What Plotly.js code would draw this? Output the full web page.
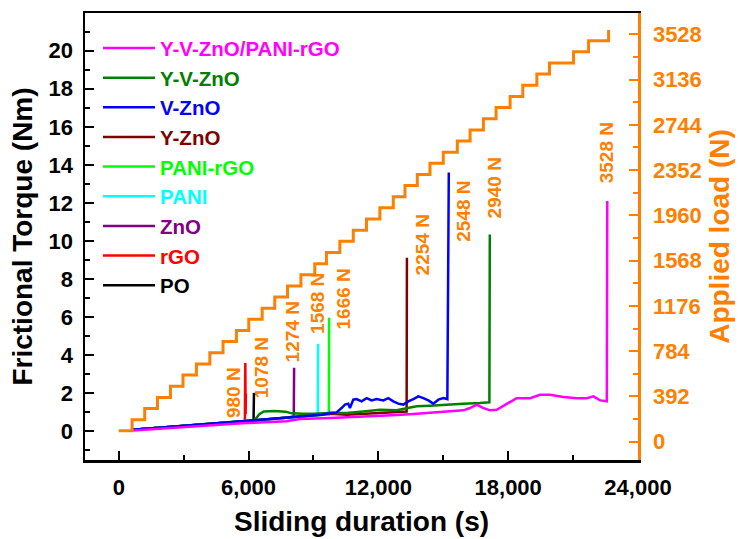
<!DOCTYPE html>
<html><head><meta charset="utf-8">
<script src="https://cdn.plot.ly/plotly-3.0.1.min.js"></script>
<style>html,body{margin:0;padding:0;background:#fff}#chart{width:744px;height:539px}</style>
</head><body><div id="chart"></div>
<script>
// ---------- DATA ----------
// Applied load staircase (right axis): time of each level start (s) and level (N)
const loadTime = [0, 616, 1200, 1790, 2390, 2970, 3590, 4210, 4820, 5440,
  6010, 6630, 7210, 7800, 8420, 9060, 9600, 10220, 10840, 11450,
  12070, 12690, 13230, 13800, 14385, 15000, 15650, 16240, 16855, 17440,
  18090, 18675, 19325, 19910, 21020, 21715, 22640];
const loadLevel = [95, 191, 288, 384, 481, 577, 674, 770, 867, 963,
  1060, 1156, 1253, 1349, 1446, 1542, 1639, 1735, 1832, 1928,
  2025, 2121, 2218, 2314, 2411, 2507, 2604, 2700, 2797, 2893,
  2990, 3086, 3183, 3279, 3376, 3472, 3565];

// Frictional torque (Nm) vs sliding duration (s)
const tPO   = [660, 1500, 2500, 3500, 4500, 5300, 5900, 6230, 6250, 6265, 6275];
const qPO   = [0.09, 0.16, 0.24, 0.32, 0.40, 0.46, 0.52, 0.58, 2.02, 1.0, 1.9];

const tRGO  = [660, 1500, 2500, 3500, 4500, 5300, 5830, 5850, 5865, 5875];
const qRGO  = [0.09, 0.16, 0.24, 0.32, 0.40, 0.47, 0.55, 3.6, 0.9, 2.0];

const tZnO  = [660, 2000, 3500, 5000, 6000, 7000, 7600, 8090, 8105];
const qZnO  = [0.09, 0.20, 0.32, 0.44, 0.55, 0.64, 0.70, 0.78, 3.34];

const tPANI = [660, 2000, 3500, 5000, 6000, 7000, 8000, 9000, 9200, 9215];
const qPANI = [0.09, 0.21, 0.33, 0.45, 0.55, 0.64, 0.74, 0.84, 0.86, 4.6];

const tPANIrGO = [660, 2000, 3500, 5000, 6000, 7000, 8000, 9000, 9710, 9725];
const qPANIrGO = [0.09, 0.20, 0.32, 0.44, 0.55, 0.65, 0.75, 0.85, 0.90, 5.97];

const tYZnO = [660, 2000, 3500, 5000, 6000, 7000, 8000, 9000, 9761, 10531, 11302, 12073, 12844, 13306, 13320];
const qYZnO = [0.09, 0.20, 0.32, 0.44, 0.55, 0.66, 0.76, 0.85, 0.93, 0.88, 0.93, 0.97, 1.00, 1.05, 9.12];

const tYVZnO = [660, 2000, 3500, 5000, 6000, 6300, 6500, 6700, 7200, 7700, 8000, 8500, 9000, 9761,
  10531, 11302, 12073, 12844, 13306, 13769, 14385, 15157, 15928, 16699, 17131, 17150];
const qYVZnO = [0.09, 0.20, 0.32, 0.44, 0.56, 0.62, 0.90, 1.05, 1.07, 1.04, 0.95, 0.93, 0.93, 0.97,
  0.97, 1.05, 1.14, 1.11, 1.23, 1.32, 1.35, 1.41, 1.46, 1.49, 1.53, 10.35];

const tVZnO = [660, 2000, 3500, 5000, 6000, 7000, 8000, 8800, 9400, 9761, 10069, 10300, 10454, 10608,
  10686, 10840, 10994, 11225, 11457, 11688, 11919, 12228, 12459, 12690, 12922, 13153, 13384, 13616,
  13847, 14078, 14310, 14541, 14772, 15003, 15188, 15255];
const qVZnO = [0.09, 0.20, 0.32, 0.44, 0.56, 0.66, 0.76, 0.82, 0.88, 0.97, 1.00, 1.23, 1.41, 1.46,
  1.23, 1.67, 1.70, 1.58, 1.75, 1.63, 1.70, 1.63, 1.75, 1.58, 1.46, 1.41, 1.58, 1.70,
  1.84, 1.75, 1.63, 1.46, 1.67, 1.75, 1.70, 13.6];

const tYVPR = [660, 2000, 3748, 5861, 7757, 8065, 8373, 9761, 10531, 11302, 12073, 12844, 13616, 14385,
  15157, 15928, 16237, 16545, 16853, 17162, 17470, 17778, 18087, 18395, 19012, 19475, 19937, 20554,
  21171, 21634, 21942, 22250, 22558, 22580];
const qYVPR = [0.05, 0.15, 0.26, 0.44, 0.53, 0.61, 0.65, 0.70, 0.74, 0.75, 0.82, 0.86, 0.91, 0.97,
  1.02, 1.11, 1.23, 1.41, 1.23, 1.11, 1.14, 1.35, 1.58, 1.75, 1.75, 1.93, 1.93, 1.81,
  1.74, 1.75, 1.84, 1.63, 1.58, 12.1];

// Legend names (top to bottom) and failure loads
const seriesNames = ['Y-V-ZnO/PANI-rGO', 'Y-V-ZnO', 'V-ZnO', 'Y-ZnO', 'PANI-rGO', 'PANI', 'ZnO', 'rGO', 'PO'];
const failLoad = [980, 1078, 1274, 1568, 1666, 2254, 2548, 2940, 3528];

// ---------- STYLE / POSITIONS ----------
const COLORS = {
  'Y-V-ZnO/PANI-rGO': '#ff00ff', 'Y-V-ZnO': '#008000', 'V-ZnO': '#0000ff', 'Y-ZnO': '#800000',
  'PANI-rGO': '#00ff00', 'PANI': '#00ffff', 'ZnO': '#800080', 'rGO': '#ff0000', 'PO': '#000000'
};
const ORANGE = '#ff8000';
const FONT = 'Liberation Sans, Arial, sans-serif';
// label anchor positions (x in s, y in Nm) for the rotated failure-load labels
const labelX = [5274, 6601, 8049, 9183, 10408, 14040, 15960, 17347, 22528];
const labelY = [2.06, 3.35, 5.25, 6.72, 6.98, 9.80, 11.54, 12.77, 14.62];

const seriesData = {
  'PO': [tPO, qPO], 'rGO': [tRGO, qRGO], 'ZnO': [tZnO, qZnO], 'PANI': [tPANI, qPANI],
  'PANI-rGO': [tPANIrGO, qPANIrGO], 'Y-ZnO': [tYZnO, qYZnO], 'Y-V-ZnO': [tYVZnO, qYVZnO],
  'V-ZnO': [tVZnO, qVZnO], 'Y-V-ZnO/PANI-rGO': [tYVPR, qYVPR]
};
const drawOrder = ['PO', 'rGO', 'ZnO', 'PANI', 'PANI-rGO', 'Y-ZnO', 'Y-V-ZnO', 'V-ZnO', 'Y-V-ZnO/PANI-rGO'];

const traces = [{
  x: loadTime, y: loadLevel, yaxis: 'y2', type: 'scatter', mode: 'lines',
  line: {color: ORANGE, width: 3, shape: 'hv'}, showlegend: false, hoverinfo: 'skip'
}];
drawOrder.forEach(name => {
  const d = seriesData[name];
  traces.push({
    x: d[0], y: d[1], type: 'scatter', mode: 'lines',
    name: '<span style="color:' + COLORS[name] + '">' + name + '</span>',
    legendrank: seriesNames.indexOf(name) + 1,
    line: {color: COLORS[name], width: 2.5}
  });
});

const bold = (size, color) => ({family: FONT, size: size, weight: 'bold', color: color || '#000'});

const annotations = failLoad.map((v, i) => ({
  x: labelX[i], y: labelY[i], xref: 'x', yref: 'y', text: v + ' N', showarrow: false,
  textangle: -90, xanchor: 'center', yanchor: 'middle', font: bold(19, ORANGE)
}));

const layout = {
  width: 744, height: 539,
  margin: {l: 85, r: 106, t: 13, b: 79},
  paper_bgcolor: '#fff', plot_bgcolor: '#fff',
  showlegend: true,
  legend: {x: 0.0235, y: 0.966, xanchor: 'left', yanchor: 'top', bgcolor: 'rgba(0,0,0,0)',
    borderwidth: 0, itemwidth: 52, font: bold(20.5), traceorder: 'normal'},
  xaxis: {
    range: [-1560, 24000], tick0: 0, dtick: 6000, tickformat: ',d',
    ticks: 'inside', ticklen: 9, tickwidth: 2, tickcolor: '#000',
    minor: {dtick: 3000, ticks: 'inside', ticklen: 5, tickwidth: 2, tickcolor: '#000'},
    showline: true, linewidth: 2.5, linecolor: '#000', mirror: true,
    showgrid: false, zeroline: false, tickfont: bold(22), ticklabelstandoff: 6,
    title: {text: 'Sliding duration (s)', font: bold(28), standoff: 13}
  },
  yaxis: {
    range: [-1.5, 21.98], tick0: 0, dtick: 2,
    ticks: 'inside', ticklen: 9, tickwidth: 2, tickcolor: '#000',
    minor: {dtick: 1, ticks: 'inside', ticklen: 5, tickwidth: 2, tickcolor: '#000'},
    showline: true, linewidth: 2.5, linecolor: '#000',
    showgrid: false, zeroline: false, tickfont: bold(22), ticklabelstandoff: 5,
    title: {text: 'Frictional Torque (Nm)', font: bold(28), standoff: 8}
  },
  yaxis2: {
    overlaying: 'y', side: 'right', anchor: 'x',
    range: [-158, 3712], tick0: 0, dtick: 392,
    ticks: 'inside', ticklen: 9, tickwidth: 2, tickcolor: ORANGE,
    minor: {dtick: 196, ticks: 'inside', ticklen: 5, tickwidth: 2, tickcolor: ORANGE},
    showline: true, linewidth: 2.5, linecolor: ORANGE,
    showgrid: false, zeroline: false, tickfont: bold(22, ORANGE), ticklabelstandoff: 8,
    title: {text: 'Applied load (N)', font: bold(28, ORANGE), standoff: 8}
  },
  annotations: annotations
};

Plotly.newPlot('chart', traces, layout, {staticPlot: true, displayModeBar: false});
</script>
</body></html>
